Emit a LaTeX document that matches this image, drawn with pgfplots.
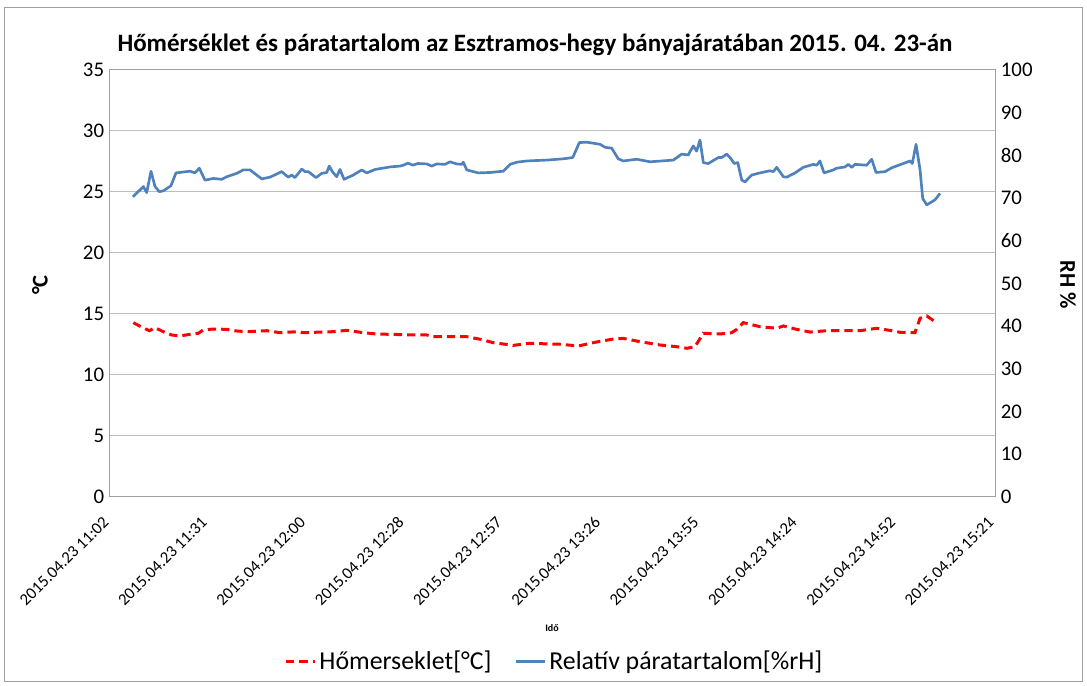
\documentclass[border=0pt]{standalone}
\usepackage{fontspec}
\setmainfont{Carlito}
\usepackage{pgfplots}
\pgfplotsset{compat=1.18}
\definecolor{rhblue}{RGB}{79,129,189}
\definecolor{gridgray}{RGB}{190,190,190}
\definecolor{axgray}{RGB}{160,160,160}
\begin{document}
\begin{tikzpicture}[x=1pt,y=1pt]
\useasboundingbox (-66,-113.4) rectangle (586.2,298.2);
\draw[axgray, line width=0.6pt] (-63,-110.4) rectangle (583.2,293.4);
\begin{axis}[at={(0,0)}, anchor=south west, scale only axis,
  width=531pt, height=256.2pt,
  xmin=0, xmax=9, ymin=0, ymax=35,
  ytick={0,5,...,35},
  xtick={0,...,9},
  xticklabels={2015.04.23 11:02,2015.04.23 11:31,2015.04.23 12:00,2015.04.23 12:28,2015.04.23 12:57,2015.04.23 13:26,2015.04.23 13:55,2015.04.23 14:24,2015.04.23 14:52,2015.04.23 15:21},
  xticklabel shift=11pt,
  xticklabel style={rotate=45, anchor=east, font=\fontsize{10}{12}\selectfont},
  yticklabel style={font=\fontsize{12.5}{14}\selectfont},
  /pgf/number format/assume math mode=true,
  major tick length=0pt,
  ymajorgrids, grid style={gridgray, line width=0.6pt},
  axis line style={axgray, line width=0.6pt},
  clip=false]
\addplot[red, line width=1.8pt, dash pattern=on 5pt off 3pt] table {
0.237 14.29
0.305 14.00
0.400 13.63
0.458 13.88
0.542 13.55
0.627 13.28
0.712 13.20
0.831 13.36
0.898 13.42
0.949 13.69
1.051 13.77
1.187 13.74
1.254 13.63
1.390 13.55
1.593 13.63
1.729 13.47
1.898 13.55
1.966 13.47
2.271 13.55
2.407 13.66
2.576 13.47
2.712 13.36
3.119 13.28
3.221 13.28
3.288 13.14
3.628 13.14
3.763 12.93
3.898 12.65
4.102 12.43
4.271 12.60
4.475 12.54
4.576 12.52
4.763 12.38
4.932 12.68
5.119 12.95
5.220 13.00
5.390 12.73
5.593 12.46
5.763 12.32
5.865 12.19
5.949 12.32
6.034 13.42
6.203 13.36
6.322 13.47
6.373 13.74
6.441 14.29
6.610 13.96
6.780 13.83
6.848 14.02
6.983 13.74
7.119 13.52
7.288 13.63
7.627 13.63
7.797 13.83
7.966 13.61
8.034 13.50
8.186 13.47
8.238 14.65
8.306 14.84
8.390 14.37
};
\end{axis}
\begin{axis}[at={(0,0)}, anchor=south west, scale only axis,
  width=531pt, height=256.2pt,
  xmin=0, xmax=9, ymin=0, ymax=100,
  ytick={0,10,...,100},
  axis y line*=right, axis x line=none,
  yticklabel style={font=\fontsize{12.5}{14}\selectfont},
  /pgf/number format/assume math mode=true,
  major tick length=0pt,
  axis line style={axgray, line width=0.6pt},
  legend style={at={(0.503,-0.386)}, anchor=center, draw=none, fill=none,
    legend columns=2, font=\fontsize{15.5}{17}\selectfont,
    /tikz/every even column/.append style={column sep=12pt}},
  clip=false]
\addlegendimage{red, line width=1.8pt, dash pattern=on 5pt off 3pt}
\addlegendentry{Hőmerseklet[°C]}
\addplot[rhblue, line width=1.6pt, line join=round] table {
0.234 70.3
0.339 72.7
0.373 71.3
0.417 76.3
0.458 72.7
0.501 71.5
0.542 71.7
0.620 72.9
0.671 75.9
0.814 76.3
0.864 75.9
0.908 77.0
0.966 74.2
1.051 74.6
1.136 74.4
1.187 75.0
1.289 75.8
1.356 76.6
1.424 76.6
1.543 74.5
1.627 74.9
1.746 76.2
1.813 74.9
1.848 75.4
1.881 74.8
1.950 76.8
1.983 76.2
2.017 76.2
2.095 74.8
2.153 75.8
2.204 76.0
2.230 77.5
2.261 76.2
2.305 75.0
2.339 76.7
2.380 74.4
2.474 75.4
2.560 76.6
2.611 75.9
2.695 76.7
2.848 77.3
2.949 77.5
2.983 77.7
3.030 78.2
3.080 77.7
3.130 78.1
3.221 78.0
3.272 77.5
3.322 78.0
3.407 77.9
3.458 78.5
3.526 78.0
3.577 77.9
3.593 78.4
3.628 76.6
3.746 75.9
3.865 76.0
4.000 76.3
4.068 77.9
4.136 78.4
4.238 78.7
4.441 78.9
4.610 79.2
4.706 79.5
4.773 83.0
4.848 83.1
4.983 82.6
5.034 81.9
5.102 81.7
5.169 79.2
5.220 78.7
5.356 79.1
5.492 78.5
5.729 78.9
5.814 80.3
5.881 80.1
5.898 80.9
5.932 82.2
5.966 81.0
6.000 83.6
6.034 78.3
6.085 78.1
6.186 79.5
6.221 79.5
6.272 80.3
6.305 79.5
6.349 78.1
6.384 78.3
6.425 74.2
6.458 73.8
6.526 75.4
6.610 75.9
6.712 76.4
6.746 76.2
6.780 77.2
6.848 75.0
6.882 74.9
6.966 75.9
7.051 77.2
7.152 77.9
7.187 77.7
7.220 78.7
7.261 75.9
7.356 76.6
7.390 77.0
7.475 77.3
7.508 77.9
7.543 77.2
7.576 77.9
7.695 77.7
7.746 79.1
7.790 76.0
7.882 76.2
7.950 77.1
8.102 78.4
8.136 78.7
8.159 78.1
8.197 82.6
8.238 76.6
8.265 69.9
8.306 68.4
8.390 69.6
8.441 71.1
};
\addlegendentry{Relatív páratartalom[\%rH]}
\end{axis}
\node[font=\bfseries\fontsize{15}{17}\selectfont] at (255,271.2) {Hőmérséklet és páratartalom az Esztramos-hegy bányajáratában 2015. 04. 23-án};
\node[font=\bfseries\fontsize{13.5}{16}\selectfont, rotate=90] at (-42,127.2) {°C};
\node[font=\bfseries\fontsize{13.5}{16}\selectfont, rotate=-90] at (574.8,127.2) {RH \%};
\node[font=\bfseries\fontsize{6}{7}\selectfont] at (265.2,-78.6) {Idő};
\end{tikzpicture}
\end{document}
